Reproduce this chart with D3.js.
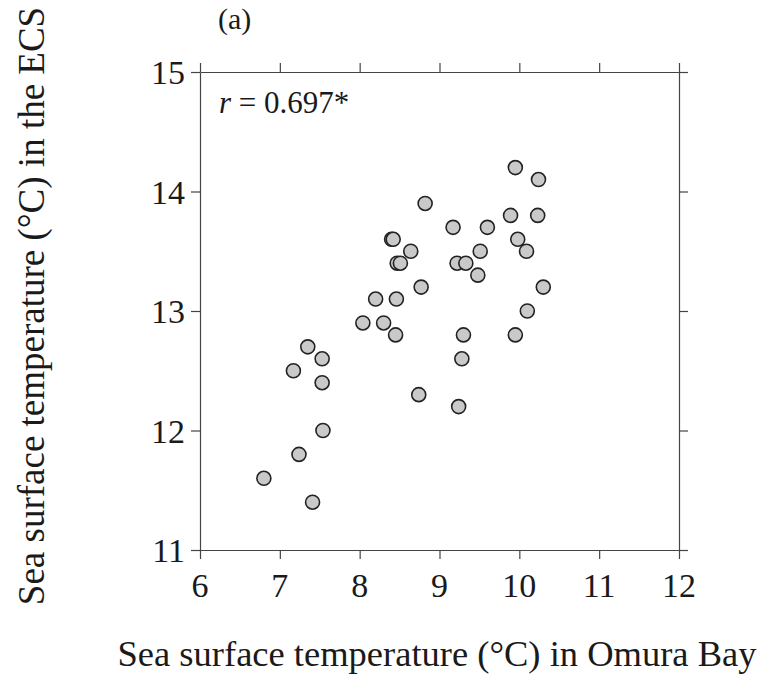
<!DOCTYPE html>
<html>
<head>
<meta charset="utf-8">
<script src="https://cdn.jsdelivr.net/npm/d3@7"></script>
<style>
  body { margin: 0; background: #fff; }
  svg text { font-family: "Liberation Serif", "Times New Roman", serif; fill: #1a1a1a; }
  .axis path, .axis line { stroke: #444; stroke-width: 1.2; }
</style>
</head>
<body>
<svg width="769" height="682"></svg>
<script>
// SST in Omura Bay (x) vs SST in the ECS (y)
const omura = [7.17, 7.35, 7.53, 7.53, 7.54, 7.24, 6.80, 7.41,
  8.04, 8.30, 8.45, 8.20, 8.46, 8.77, 8.40, 8.42, 8.64, 8.47, 8.51, 8.82, 8.74,
  9.95, 10.24, 9.17, 9.60, 9.89, 10.23, 9.98, 10.09, 9.51, 9.22, 9.33, 9.48,
  10.30, 10.10, 9.30, 9.95, 9.28, 9.24];
const ecs = [12.5, 12.7, 12.6, 12.4, 12.0, 11.8, 11.6, 11.4,
  12.9, 12.9, 12.8, 13.1, 13.1, 13.2, 13.6, 13.6, 13.5, 13.4, 13.4, 13.9, 12.3,
  14.2, 14.1, 13.7, 13.7, 13.8, 13.8, 13.6, 13.5, 13.5, 13.4, 13.4, 13.3,
  13.2, 13.0, 12.8, 12.8, 12.6, 12.2];
const xTicks = [6, 7, 8, 9, 10, 11, 12];
const yTicks = [11, 12, 13, 14, 15];

const data = omura.map((d, i) => ({ x: d, y: ecs[i] }));

const pLeft = 200, pRight = 679, pTop = 72, pBottom = 550;
const svg = d3.select('svg');

const x = d3.scaleLinear().domain([6, 12]).range([pLeft, pRight]);
const y = d3.scaleLinear().domain([11, 15]).range([pBottom, pTop]);

const tickLen = 9;

// frame axes
svg.append('g').attr('class', 'axis')
  .attr('transform', `translate(0,${pBottom})`)
  .call(d3.axisBottom(x).tickValues(xTicks).tickSize(tickLen).tickSizeOuter(0).tickFormat(''));
svg.append('g').attr('class', 'axis')
  .attr('transform', `translate(0,${pTop})`)
  .call(d3.axisTop(x).tickValues(xTicks).tickSize(tickLen).tickSizeOuter(0).tickFormat(''));
svg.append('g').attr('class', 'axis')
  .attr('transform', `translate(${pLeft},0)`)
  .call(d3.axisLeft(y).tickValues(yTicks).tickSize(tickLen).tickSizeOuter(0).tickFormat(''));
svg.append('g').attr('class', 'axis')
  .attr('transform', `translate(${pRight},0)`)
  .call(d3.axisRight(y).tickValues(yTicks).tickSize(tickLen).tickSizeOuter(0).tickFormat(''));

// tick labels
svg.append('g').selectAll('text')
  .data(xTicks)
  .enter().append('text')
  .attr('x', d => x(d))
  .attr('y', pBottom + 47)
  .attr('text-anchor', 'middle')
  .style('font-size', '34px')
  .text(d => d);

svg.append('g').selectAll('text')
  .data(yTicks)
  .enter().append('text')
  .attr('x', pLeft - 15)
  .attr('y', d => y(d) + 12)
  .attr('text-anchor', 'end')
  .style('font-size', '34px')
  .text(d => d);

// points
svg.append('g').selectAll('circle')
  .data(data)
  .enter().append('circle')
  .attr('cx', d => x(d.x))
  .attr('cy', d => y(d.y))
  .attr('r', 7)
  .attr('fill', '#c9c9cb')
  .attr('stroke', '#222')
  .attr('stroke-width', 1.6);

// labels
svg.append('text')
  .attr('x', 218)
  .attr('y', 29)
  .style('font-size', '30px')
  .text('(a)');

const rt = svg.append('text')
  .attr('x', 219)
  .attr('y', 113)
  .style('font-size', '31px');
rt.append('tspan').style('font-style', 'italic').text('r');
rt.append('tspan').text(' = 0.697*');

svg.append('text')
  .attr('x', 437)
  .attr('y', 666)
  .attr('text-anchor', 'middle')
  .style('font-size', '36.5px')
  .text('Sea surface temperature (°C) in Omura Bay');

svg.append('text')
  .attr('transform', 'translate(44,306) rotate(-90)')
  .attr('text-anchor', 'middle')
  .style('font-size', '37px')
  .text('Sea surface temperature (°C) in the ECS');
</script>
</body>
</html>
